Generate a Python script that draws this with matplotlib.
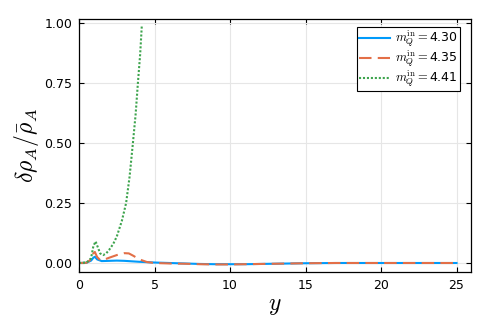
import matplotlib
matplotlib.use("Agg")
import matplotlib.pyplot as plt

plt.rcParams["mathtext.fontset"] = "cm"

# Data
x_blue = [0, 0.5, 0.8, 0.95, 1.05, 1.2, 1.5, 2, 2.5, 3, 3.5, 4, 5, 6, 7, 8, 9, 10, 11, 12, 13, 14, 15, 17, 20, 25]
y_blue = [0, 0.001, 0.01, 0.022, 0.026, 0.015, 0.008, 0.009, 0.01, 0.009, 0.007, 0.005, 0.002, 0.0,
          -0.002, -0.004, -0.005, -0.005, -0.005, -0.004, -0.003, -0.002, -0.001, 0.0, 0.0, 0.0]

x_orange = [0, 0.5, 0.8, 0.95, 1.05, 1.2, 1.4, 1.7, 2, 2.5, 3, 3.3, 3.6, 4, 4.5, 5, 6, 7, 8, 9, 10, 11, 12, 13,
            14, 15, 17, 20, 25]
y_orange = [0, 0.001, 0.015, 0.04, 0.046, 0.025, 0.012, 0.015, 0.022, 0.033, 0.041, 0.04, 0.03, 0.015, 0.004,
            0.0, -0.002, -0.003, -0.005, -0.006, -0.006, -0.005, -0.004, -0.003, -0.002, -0.001, 0.0, 0.0, 0.0]

x_green = [0, 0.5, 0.8, 0.95, 1.1, 1.25, 1.4, 1.6, 1.8, 2.0, 2.27, 2.5, 2.84, 3.12, 3.35, 3.57, 3.75, 3.9, 4.05, 4.16]
y_green = [0, 0.002, 0.02, 0.07, 0.09, 0.065, 0.04, 0.033, 0.04, 0.055, 0.08, 0.11, 0.176, 0.25, 0.36, 0.5,
           0.62, 0.75, 0.87, 0.99]

labels = [r"$m_Q^{\mathrm{in}} = $4.30", r"$m_Q^{\mathrm{in}} = $4.35", r"$m_Q^{\mathrm{in}} = $4.41"]
xticks = [0, 5, 10, 15, 20, 25]
yticks = [0.0, 0.25, 0.5, 0.75, 1.0]
ytick_labels = ["0.00", "0.25", "0.50", "0.75", "1.00"]

fig = plt.figure(figsize=(4.91, 3.27), dpi=100)
ax = fig.add_axes([0.1609, 0.1682, 0.9593 - 0.1609, 0.9419 - 0.1682])

ax.plot(x_blue, y_blue, color="#009AFA", lw=1.5, ls="-", label=labels[0])
ax.plot(x_orange, y_orange, color="#E36F47", lw=1.5, ls=(0, (6, 3)), label=labels[1])
ax.plot(x_green, y_green, color="#3EA44E", lw=1.5, ls=(0, (1.0, 0.9)), label=labels[2])

ax.set_xlim(0, 25.96)
ax.set_ylim(-0.0375, 1.017)
ax.set_xticks(xticks)
ax.set_yticks(yticks)
ax.set_yticklabels(ytick_labels)
ax.grid(True, color="#e6e6e6", lw=0.8)
ax.set_axisbelow(True)
ax.tick_params(direction="in", length=3.5, width=0.8, top=True, right=True, labelsize=9,
               labeltop=False, labelright=False, pad=5)
for s in ax.spines.values():
    s.set_linewidth(0.9)

ax.set_xlabel(r"$y$", fontsize=17, labelpad=1)
ax.set_ylabel(r"$\delta\rho_A/\bar{\rho}_A$", fontsize=17, labelpad=2)

leg = ax.legend(loc="upper right", bbox_to_anchor=(0.972, 0.968), fontsize=9, frameon=True,
                fancybox=False, framealpha=1, edgecolor="black", handlelength=2.5, borderpad=0.15,
                labelspacing=0.0, handletextpad=0.4, borderaxespad=0.0)
leg.get_frame().set_linewidth(0.8)

fig.savefig("out.png", dpi=100)
